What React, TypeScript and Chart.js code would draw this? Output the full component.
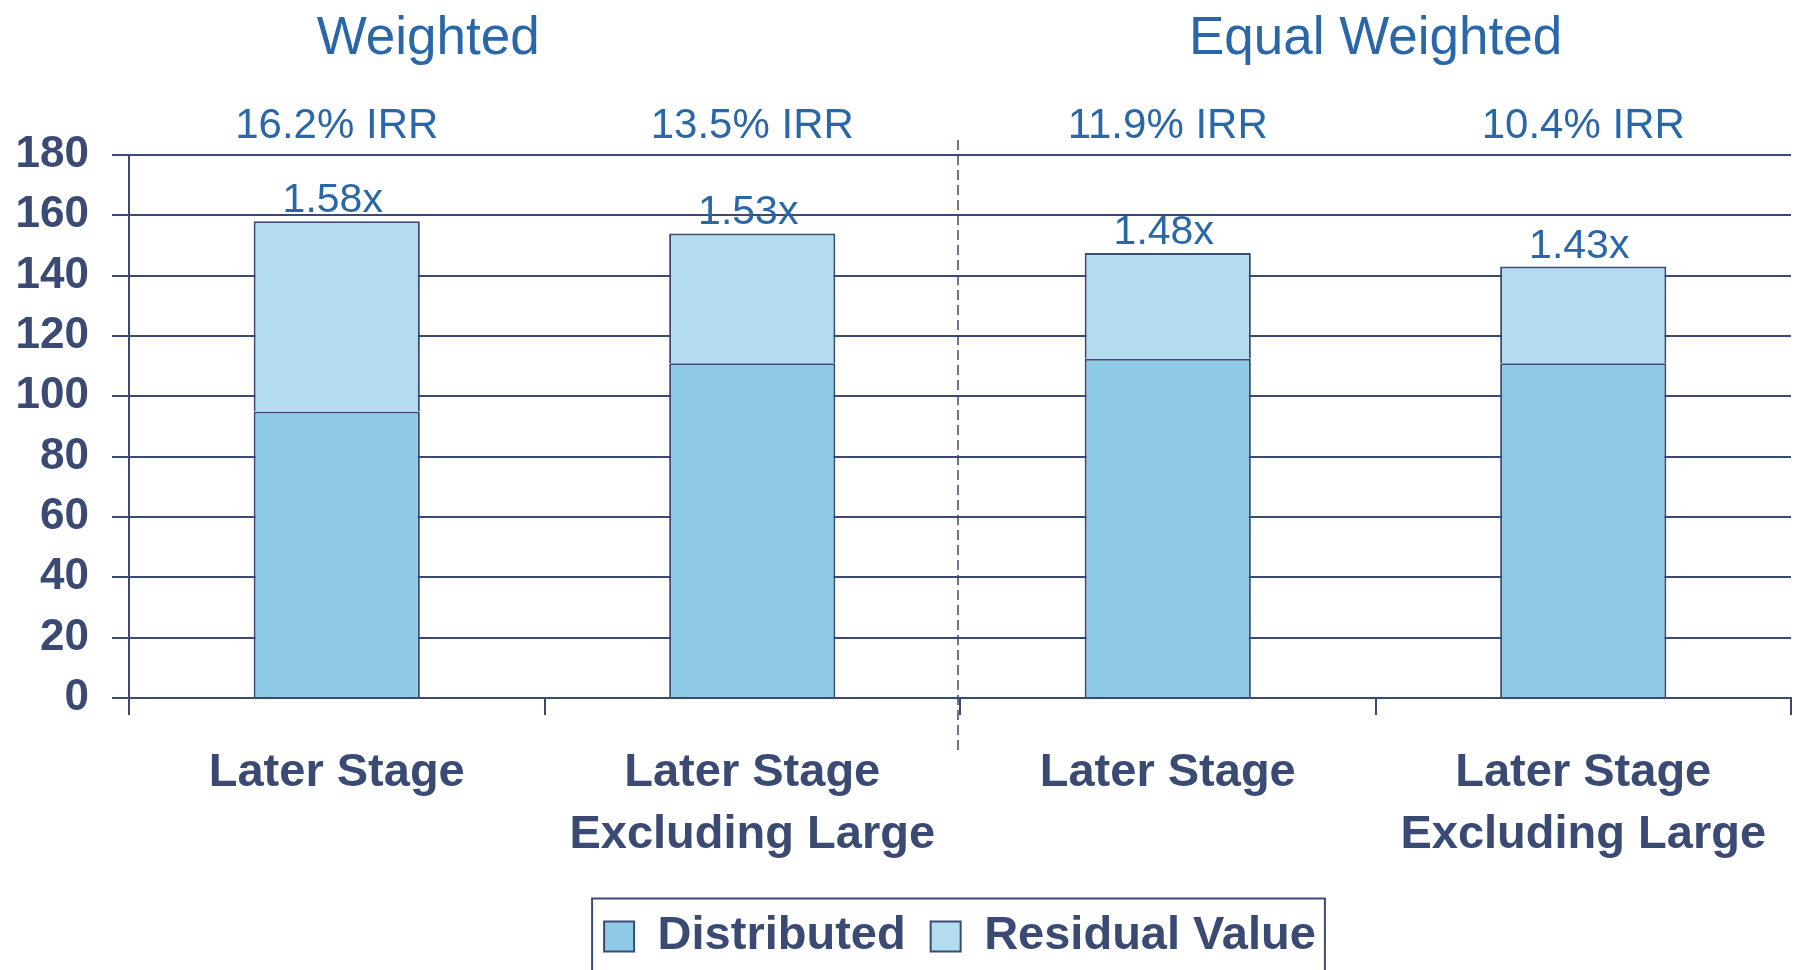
import React, { useEffect, useRef } from "react";
import { Chart, registerables } from "chart.js";

Chart.register(...registerables);

// ---- Data ----
const categories: string[][] = [
  ["Later Stage"],
  ["Later Stage", "Excluding Large"],
  ["Later Stage"],
  ["Later Stage", "Excluding Large"],
];
const distributed = [95, 111, 112.5, 111];
const residualValue = [63, 43, 35, 32];
const multiples = ["1.58x", "1.53x", "1.48x", "1.43x"];
const irrLabels = ["16.2% IRR", "13.5% IRR", "11.9% IRR", "10.4% IRR"];
const groupTitles = ["Weighted", "Equal Weighted"];
const seriesNames = ["Distributed", "Residual Value"];
const yMin = 0;
const yMax = 180;
const yStep = 20;

// ---- Styles ----
const NAVY = "#3b4a73";
const BLUE = "#2a67a8";
const DIST_COLOR = "#8ecae6";
const RESID_COLOR = "#b3dcee";
const FONT = '"Liberation Sans", Arial, Helvetica, sans-serif';

const overlayPlugin = {
  id: "overlay",
  afterDraw(chart: any) {
    const ctx = chart.ctx;
    const x = chart.scales.x;
    const area = chart.chartArea;
    ctx.save();

    // dashed separator between the two groups
    const dx = x.getPixelForValue(1.5) - 2;
    ctx.strokeStyle = NAVY;
    ctx.lineWidth = 1.5;
    ctx.setLineDash([10, 5]);
    ctx.beginPath();
    ctx.moveTo(dx, area.top - 15);
    ctx.lineTo(dx, area.bottom + 52);
    ctx.stroke();
    ctx.setLineDash([]);

    // group titles
    ctx.fillStyle = BLUE;
    ctx.textAlign = "center";
    ctx.textBaseline = "alphabetic";
    ctx.font = `53px ${FONT}`;
    ctx.fillText(groupTitles[0], x.getPixelForValue(0.22), area.top - 101);
    ctx.fillText(groupTitles[1], x.getPixelForValue(2.5), area.top - 101);

    // IRR labels
    ctx.font = `42px ${FONT}`;
    irrLabels.forEach((t, i) => {
      ctx.fillText(t, x.getPixelForValue(i), area.top - 17);
    });

    // multiples above bars
    ctx.font = `41px ${FONT}`;
    const meta = chart.getDatasetMeta(1);
    multiples.forEach((t, i) => {
      const el = meta.data[i];
      if (el) ctx.fillText(t, el.x - 4, el.y - 9);
    });

    // legend frame
    const lg = chart.legend;
    const hb = lg && lg.legendHitBoxes;
    if (hb && hb.length) {
      const first = hb[0];
      const last = hb[hb.length - 1];
      const left = first.left - 12;
      const right = last.left + last.width + 9;
      const top = first.top + first.height / 2 - 38;
      ctx.strokeStyle = NAVY;
      ctx.lineWidth = 2;
      ctx.strokeRect(left, top, right - left, chart.height - top + 20);
    }
    ctx.restore();
  },
};

export default function App() {
  const canvasRef = useRef<HTMLCanvasElement | null>(null);

  useEffect(() => {
    if (!canvasRef.current) return;
    const chart = new Chart(canvasRef.current, {
      type: "bar",
      data: {
        labels: categories,
        datasets: [
          {
            label: seriesNames[0],
            data: distributed,
            backgroundColor: DIST_COLOR,
            borderColor: NAVY,
            borderWidth: 2,
            barPercentage: 0.4,
            categoryPercentage: 1,
          },
          {
            label: seriesNames[1],
            data: residualValue,
            backgroundColor: RESID_COLOR,
            borderColor: NAVY,
            borderWidth: 2,
            barPercentage: 0.4,
            categoryPercentage: 1,
          },
        ],
      },
      options: {
        animation: false,
        responsive: false,
        layout: { padding: { top: 155, right: 4, left: 0, bottom: 0 } },
        plugins: {
          tooltip: { enabled: false },
          title: { display: false },
          legend: {
            position: "bottom",
            fullSize: false,
            labels: {
              boxWidth: 30,
              boxHeight: 30,
              padding: 25,
              color: NAVY,
              font: { family: FONT, size: 47, weight: "bold" },
            },
          },
        },
        scales: {
          x: {
            stacked: true,
            offset: true,
            grid: {
              offset: true,
              drawOnChartArea: true,
              color: (c: any) => (c.index === categories.length ? NAVY : "rgba(0,0,0,0)"),
              tickColor: NAVY,
              tickLength: 17,
              lineWidth: 2,
            },
            border: { display: true, color: NAVY, width: 2 },
            ticks: {
              color: NAVY,
              font: { family: FONT, size: 47, weight: "bold", lineHeight: "62px" },
              padding: 27,
              autoSkip: false,
              maxRotation: 0,
              minRotation: 0,
            },
            afterFit: (s: any) => {
              s.height = 190;
            },
          },
          y: {
            stacked: true,
            min: yMin,
            max: yMax,
            ticks: {
              stepSize: yStep,
              color: NAVY,
              font: { family: FONT, size: 44, weight: "bold" },
              padding: 23,
            },
            grid: { color: NAVY, lineWidth: 2, tickLength: 17, drawTicks: true },
            border: { display: true, color: NAVY, width: 2 },
            afterFit: (s: any) => {
              s.width = 129;
            },
          },
        },
      } as any,
      plugins: [overlayPlugin],
    });
    return () => chart.destroy();
  }, []);

  return (
    <div style={{ position: "absolute", left: 0, top: 0, width: 1795, height: 970, background: "#fff" }}>
      <canvas ref={canvasRef} width={1795} height={970} style={{ display: "block", width: 1795, height: 970 }} />
    </div>
  );
}
